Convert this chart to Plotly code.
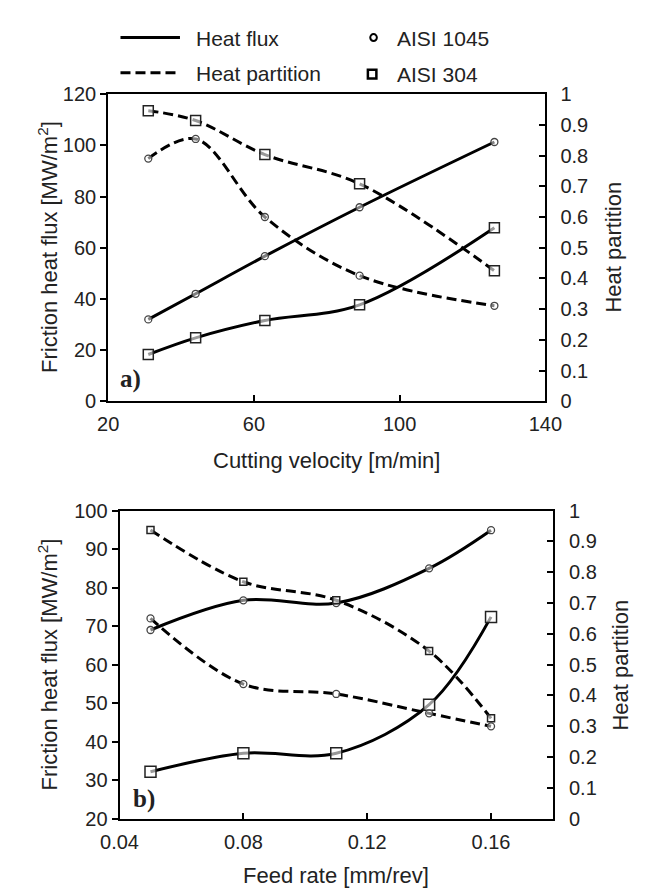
import plotly.graph_objects as go

# ---------------- data ----------------
velocity = [31, 44, 63, 89, 126]
hf_1045_v = [32.0, 42.0, 56.7, 75.8, 101.3]
hf_304_v = [18.3, 24.8, 31.6, 37.7, 67.8]
hp_1045_v = [0.79, 0.854, 0.60, 0.409, 0.311]
hp_304_v = [0.946, 0.914, 0.803, 0.708, 0.425]

feed = [0.05, 0.08, 0.11, 0.14, 0.16]
hf_1045_f = [69.0, 76.7, 76.0, 85.0, 94.9]
hf_304_f = [32.2, 37.0, 37.0, 49.6, 72.4]
hp_1045_f = [0.65, 0.437, 0.405, 0.342, 0.30]
hp_304_f = [0.937, 0.769, 0.709, 0.544, 0.326]

feed_ticks = [0.04, 0.08, 0.12, 0.16]

W, H = 646, 892
FONT = "Liberation Sans, Arial, sans-serif"
TICK_FS = 20
TITLE_FS = 22
LEG_FS = 21


def px(x):
    return x / W


def py(y):
    return 1 - y / H


fig = go.Figure()

circle_m = dict(symbol="circle", size=7, color="rgba(255,255,255,0.5)",
                line=dict(color="#444", width=1.3))


def sq_m(size):
    return dict(symbol="square", size=size, color="rgba(255,255,255,0.6)",
                line=dict(color="#222", width=1.5))


solid = dict(color="black", width=3, shape="spline", smoothing=1.0)
dashed = dict(color="black", width=3, dash="10px,5px", shape="spline", smoothing=1.0)

# top panel
fig.add_trace(go.Scatter(x=velocity, y=hf_1045_v, mode="lines+markers", line=solid,
                         marker=circle_m, xaxis="x", yaxis="y", showlegend=False))
fig.add_trace(go.Scatter(x=velocity, y=hf_304_v, mode="lines+markers", line=solid,
                         marker=sq_m(10), xaxis="x", yaxis="y", showlegend=False))
fig.add_trace(go.Scatter(x=velocity, y=hp_1045_v, mode="lines+markers", line=dashed,
                         marker=circle_m, xaxis="x", yaxis="y2", showlegend=False))
fig.add_trace(go.Scatter(x=velocity, y=hp_304_v, mode="lines+markers", line=dashed,
                         marker=sq_m(10), xaxis="x", yaxis="y2", showlegend=False))

# bottom panel
fig.add_trace(go.Scatter(x=feed, y=hf_1045_f, mode="lines+markers", line=solid,
                         marker=circle_m, xaxis="x2", yaxis="y3", showlegend=False))
fig.add_trace(go.Scatter(x=feed, y=hf_304_f, mode="lines+markers", line=solid,
                         marker=sq_m(11), xaxis="x2", yaxis="y3", showlegend=False))
fig.add_trace(go.Scatter(x=feed, y=hp_1045_f, mode="lines+markers", line=dashed,
                         marker=circle_m, xaxis="x2", yaxis="y4", showlegend=False))
fig.add_trace(go.Scatter(x=feed, y=hp_304_f, mode="lines+markers", line=dashed,
                         marker=sq_m(7), xaxis="x2", yaxis="y4", showlegend=False))

axis_common = dict(showline=True, linewidth=2, linecolor="black", showgrid=False,
                   zeroline=False, ticklen=6, tickwidth=1.5, tickcolor="black",
                   tickfont=dict(family=FONT, size=TICK_FS, color="#222"))

fig.update_layout(
    width=W, height=H,
    margin=dict(l=0, r=0, t=0, b=0),
    paper_bgcolor="white", plot_bgcolor="white",
    font=dict(family=FONT, size=TICK_FS, color="#222"),
    xaxis=dict(domain=[px(86), px(549)], range=[20, 140], tick0=20, dtick=40,
               ticks="inside", mirror=True, anchor="y", ticklabelstandoff=4, **axis_common),
    yaxis=dict(domain=[py(392), py(77)], range=[0, 120], tick0=0, dtick=20,
               ticks="outside", anchor="x", **axis_common),
    yaxis2=dict(overlaying="y", side="right", range=[0, 1], tick0=0, dtick=0.1,
                ticks="inside", anchor="x", ticklabelstandoff=9, **axis_common),
    xaxis2=dict(domain=[px(98), px(557)], range=[0.04, 0.18], tickvals=feed_ticks,
                ticktext=[f"{t:.2f}" for t in feed_ticks], ticklabelstandoff=4,
                ticks="inside", mirror=True, anchor="y3", **axis_common),
    yaxis3=dict(domain=[py(820), py(504)], range=[20, 100], tick0=20, dtick=10,
                ticks="outside", anchor="x2", **axis_common),
    yaxis4=dict(overlaying="y3", side="right", range=[0, 1], tick0=0, dtick=0.1,
                ticks="inside", anchor="x2", ticklabelstandoff=10, **axis_common),
)

ann = []


def text(x, y, s, angle=0, size=TITLE_FS, family=FONT, xanchor="center"):
    ann.append(dict(x=px(x), y=py(y), xref="paper", yref="paper", text=s,
                    showarrow=False, textangle=angle, xanchor=xanchor, yanchor="middle",
                    font=dict(family=family, size=size, color="#222")))


text(22, 234, "Friction heat flux [MW/m<sup>2</sup>]", angle=-90)
text(22, 662, "Friction heat flux [MW/m<sup>2</sup>]", angle=-90)
text(621, 234, "Heat partition", angle=-90)
text(629, 662, "Heat partition", angle=-90)
text(317, 453, "Cutting velocity [m/min]")
text(327, 878, "Feed rate [mm/rev]")
text(110, 369, "<b>a)</b>", size=25, family="Liberation Serif, Times New Roman, serif")
text(124, 800, "<b>b)</b>", size=25, family="Liberation Serif, Times New Roman, serif")

# legend
text(177, 20, "Heat flux", size=LEG_FS, xanchor="left")
text(177, 56, "Heat partition", size=LEG_FS, xanchor="left")
text(390, 20, "AISI 1045", size=LEG_FS, xanchor="left")
text(390, 57, "AISI 304", size=LEG_FS, xanchor="left")

shapes = [
    dict(type="line", xref="paper", yref="paper", x0=px(99), x1=px(162), y0=py(19), y1=py(19),
         line=dict(color="black", width=3)),
    dict(type="line", xref="paper", yref="paper", x0=px(99), x1=px(162), y0=py(55), y1=py(55),
         line=dict(color="black", width=3, dash="10px,5px")),
    dict(type="circle", xref="paper", yref="paper", x0=px(363.5), x1=px(370.5),
         y0=py(22.5), y1=py(15.5), line=dict(color="black", width=2)),
    dict(type="rect", xref="paper", yref="paper", x0=px(361), x1=px(370),
         y0=py(61), y1=py(52), line=dict(color="black", width=2.5)),
]

fig.update_layout(annotations=ann, shapes=shapes)

fig.write_html("out.html")
